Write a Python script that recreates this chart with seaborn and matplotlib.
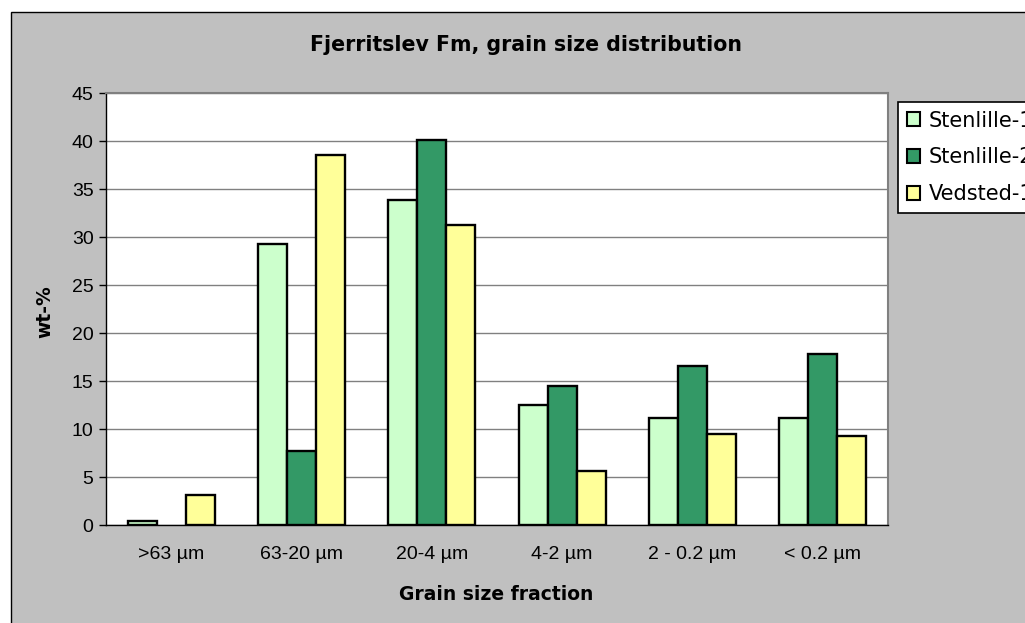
import matplotlib
matplotlib.use("Agg")
import matplotlib.pyplot as plt
from matplotlib.patches import Rectangle, Patch
import seaborn as sns
import pandas as pd
import numpy as np

categories = [">63 µm", "63-20 µm", "20-4 µm", "4-2 µm", "2 - 0.2 µm", "< 0.2 µm"]
series = ["Stenlille-1", "Stenlille-2", "Vedsted-1"]
stenlille1 = [0.4, 29.3, 33.9, 12.5, 11.1, 11.1]
stenlille2 = [np.nan, 7.7, 40.1, 14.5, 16.6, 17.8]
vedsted1 = [3.1, 38.5, 31.3, 5.6, 9.5, 9.3]
yticks = [0, 5, 10, 15, 20, 25, 30, 35, 40, 45]
colors = ["#CCFFCC", "#339966", "#FFFF99"]

df = pd.DataFrame({
    "fraction": categories * 3,
    "series": [series[0]] * 6 + [series[1]] * 6 + [series[2]] * 6,
    "value": stenlille1 + stenlille2 + vedsted1,
})

sns.set_style("white")
plt.rcParams["font.family"] = ["Liberation Sans", "DejaVu Sans"]
plt.rcParams["text.color"] = "black"
plt.rcParams["xtick.color"] = "black"
plt.rcParams["ytick.color"] = "black"
plt.rcParams["axes.labelcolor"] = "black"

W, H = 1025, 623
fig = plt.figure(figsize=(W / 100, H / 100), dpi=100)
fig.patch.set_facecolor("white")
fig.patches.append(Rectangle((11 / W, -0.01), 1.1, (H - 12) / H + 0.01,
                             transform=fig.transFigure, facecolor="#c0c0c0",
                             edgecolor="black", linewidth=1, zorder=-10))

ax = fig.add_axes([106 / W, (H - 525) / H, (888 - 106) / W, (525 - 93) / H])
ax.set_facecolor("white")
sns.barplot(data=df, x="fraction", y="value", hue="series", order=categories,
            hue_order=series, palette=colors, saturation=1, width=0.67,
            edgecolor="black", linewidth=1.7, ax=ax, legend=False, zorder=3)

ax.set_ylim(0, 45)
ax.set_xlim(-0.5, 5.5)
ax.set_yticks(yticks)
ax.set_yticklabels([str(v) for v in yticks], fontsize=14, family=["Liberation Sans"])
ax.yaxis.grid(True, color="#808080", linewidth=1, zorder=0)
ax.set_axisbelow(True)

ax.set_xticks(np.arange(-0.5, 6.0, 1.0))
ax.set_xticklabels([])
ax.set_xticks(np.arange(0, 6), minor=True)
ax.set_xticklabels(categories, minor=True, fontsize=14, family=["Liberation Sans"])
ax.tick_params(axis="x", which="major", direction="out", length=5, width=1, color="black")
ax.tick_params(axis="x", which="minor", length=0, pad=15)
ax.tick_params(axis="y", direction="out", length=5, width=1, color="black", left=True, pad=4)

for s in ["left", "bottom"]:
    ax.spines[s].set_color("black")
    ax.spines[s].set_linewidth(1)
for s in ["top", "right"]:
    ax.spines[s].set_visible(True)
    ax.spines[s].set_color("#808080")
    ax.spines[s].set_linewidth(1.5)

ax.set_xlabel("")
ax.set_ylabel("")
wide = ["DejaVu Sans"]
fig.text(496 / W, 1 - 595 / H, "Grain size fraction", ha="center", va="center",
         fontsize=13.5, fontweight="bold", family=wide)
fig.text(45 / W, 1 - 312 / H, "wt-%", ha="center", va="center", rotation=90,
         fontsize=13.5, fontweight="bold", family=wide)
fig.text(526 / W, 1 - 45 / H, "Fjerritslev Fm, grain size distribution",
         ha="center", va="center", fontsize=14.8, fontweight="bold", family=wide)

handles = [Patch(facecolor=c, edgecolor="black", linewidth=1.5) for c in colors]
leg = fig.legend(handles, series, loc="upper left",
                 bbox_to_anchor=(898 / W, 1 - 102 / H), bbox_transform=fig.transFigure,
                 prop={"family": wide, "size": 15}, frameon=True, fancybox=False,
                 framealpha=1, edgecolor="black", facecolor="white",
                 handlelength=0.63, handleheight=0.63, handletextpad=0.45,
                 labelspacing=0.81, borderpad=0.41, borderaxespad=0)
leg.get_frame().set_linewidth(1.2)

fig.savefig("out.png", dpi=100)
